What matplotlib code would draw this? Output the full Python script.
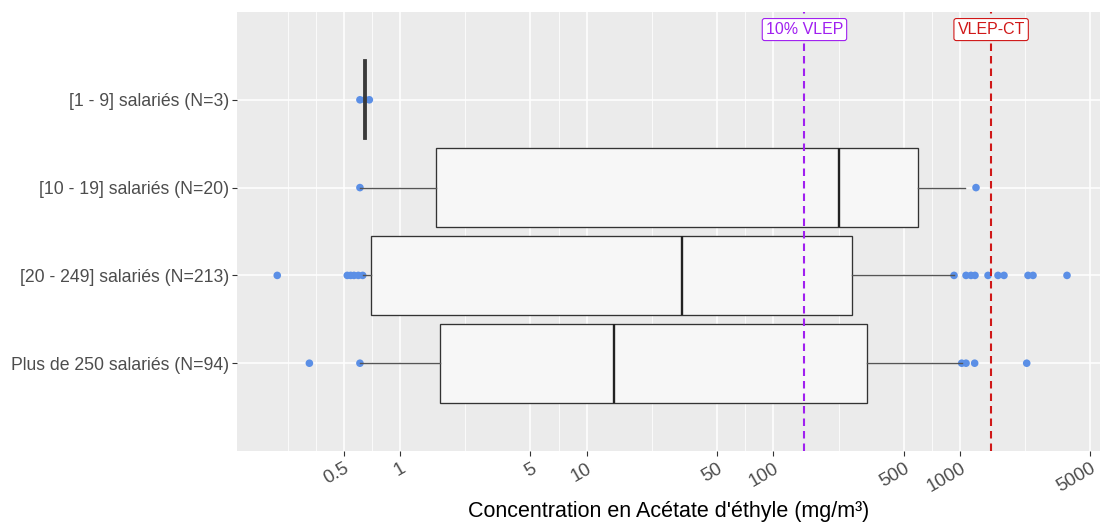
import matplotlib
matplotlib.use("Agg")
import matplotlib.pyplot as plt
from matplotlib.ticker import NullLocator
import numpy as np

# ---------------- data ----------------
categories = [
    "[1 - 9] salariés (N=3)",
    "[10 - 19] salariés (N=20)",
    "[20 - 249] salariés (N=213)",
    "Plus de 250 salariés (N=94)",
]
whisker_low = [0.638, 0.61, 0.631, 0.61]
q1 = [0.638, 1.56, 0.697, 1.64]
median = [0.647, 226, 32.4, 14.0]
q3 = [0.656, 593, 265, 319]
whisker_high = [0.656, 1064, 929, 1021]

points_1_9 = [0.61, 0.65, 0.685]
points_10_19 = [0.61, 1218]
points_20_249 = [0.220, 0.522, 0.544, 0.567, 0.598, 0.631,
                 929, 1077, 1145, 1203, 1413, 1598, 1720, 2314, 2461, 3743]
points_250 = [0.327, 0.61, 1021, 1077, 1198, 2277]
points = [points_1_9, points_10_19, points_20_249, points_250]

x_breaks = [0.5, 1, 5, 10, 50, 100, 500, 1000, 5000]
x_break_labels = ["0.5", "1", "5", "10", "50", "100", "500", "1000", "5000"]
minor_breaks = [0.25, 0.354, 0.707, 2.236, 7.07, 22.36, 70.7, 223.6, 707, 2236]

vlep_10 = 146.8
vlep_ct = 1468
ref_labels = ["10% VLEP", "VLEP-CT"]
ref_values = [vlep_10, vlep_ct]
ref_colors = ["#A020F0", "#D01818"]

x_title = "Concentration en Acétate d'éthyle (mg/m³)"

# ---------------- figure ----------------
plt.rcParams['font.family'] = ['Liberation Sans', 'DejaVu Sans']

W, H = 1102, 522
fig = plt.figure(figsize=(W / 100, H / 100), dpi=100)
fig.patch.set_facecolor('white')
ax = fig.add_axes([237 / W, 1 - 451 / H, (1100 - 237) / W, (451 - 12) / H])
ax.set_facecolor('#EBEBEB')
ax.set_xscale('log')
ax.set_xlim(0.1339, 5623)
ax.set_ylim(5.0, 0.0)
for s in ax.spines.values():
    s.set_visible(False)

positions = np.arange(1, len(categories) + 1)

# grid
for v in minor_breaks:
    ax.axvline(v, color='white', lw=0.55, zorder=0)
for v in x_breaks:
    ax.axvline(v, color='white', lw=1.1, zorder=0)
for p in positions:
    ax.axhline(p, color='white', lw=1.1, zorder=0)

# points (under boxes)
for p, pts in zip(positions, points):
    ax.scatter(pts, [p] * len(pts), s=30, color='#5B8FE6', edgecolors='none', zorder=2)

# boxes
stats = [dict(label=c, whislo=wl, q1=a, med=m, q3=b, whishi=wh, fliers=[])
         for c, wl, a, m, b, wh in zip(categories, whisker_low, q1, median, q3, whisker_high)]
bp = ax.bxp(stats, positions=positions, orientation='horizontal', widths=0.9,
            patch_artist=True, showfliers=False, showcaps=False,
            boxprops=dict(facecolor='#F7F7F7', edgecolor='#333333', linewidth=0.95),
            medianprops=dict(color='#222222', linewidth=1.7),
            whiskerprops=dict(color='#555555', linewidth=1.0),
            manage_ticks=False)
for k in ('boxes', 'medians', 'whiskers'):
    for art in bp[k]:
        art.set_zorder(3)
# the first group is a near-degenerate box: draw it as a solid dark bar
bp['boxes'][0].set_facecolor('#3A3A3A')
bp['boxes'][0].set_edgecolor('#3A3A3A')
bp['boxes'][0].set_linewidth(1.3)
bp['medians'][0].set_color('#3A3A3A')

# reference lines and labels
for lab, v, col in zip(ref_labels, ref_values, ref_colors):
    ax.axvline(v, color=col, lw=1.5, ls=(0, (3.6, 2.4)), zorder=4)
    ax.text(v, 0.2, lab, ha='center', va='center', fontsize=11.5, color=col, zorder=6,
            bbox=dict(boxstyle='round,pad=0.22,rounding_size=0.15', fc='white', ec=col, lw=0.8))

# axes ticks
ax.xaxis.set_minor_locator(NullLocator())
ax.set_xticks(x_breaks)
ax.set_xticklabels(x_break_labels)
ax.set_yticks(positions)
ax.set_yticklabels(categories)
ax.tick_params(axis='both', length=3.5, width=0.8, color='#333333', labelcolor='#4D4D4D')
ax.tick_params(axis='x', labelsize=13.5, pad=3)
ax.tick_params(axis='y', labelsize=12.7, pad=2)
for lbl in ax.get_xticklabels():
    lbl.set_rotation(30)
    lbl.set_ha('right')
    lbl.set_va('top')
    lbl.set_rotation_mode('anchor')

ax.set_xlabel(x_title, fontsize=15.5, color='black')
ax.xaxis.set_label_coords(0.5, (451 - 511) / (451 - 12))
ax.xaxis.label.set_va('center')

fig.savefig('out.png', dpi=100, facecolor='white')
